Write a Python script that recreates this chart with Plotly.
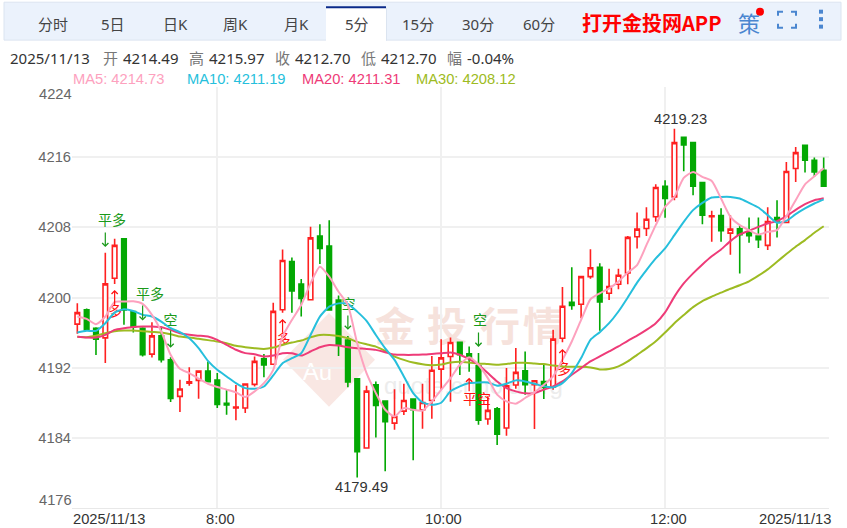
import plotly.graph_objects as go

# 5 minute candles
opens = [4196.96, 4198.59, 4196.5, 4195.4, 4202.19, 4206.7, 4198.4, 4196.5, 4193.54, 4195.63,
         4192.9, 4188.73, 4190.24, 4190.55, 4191.61, 4190.59, 4187.95, 4187.4, 4187.4, 4190.1,
         4193.0, 4192.39, 4198.61, 4204.11, 4201.53, 4199.75, 4207.0, 4205.86, 4199.71, 4195.16,
         4190.73, 4182.84, 4190.04, 4188.19, 4185.68, 4187.05, 4188.41, 4187.2, 4188.26, 4191.83,
         4193.28, 4194.9, 4193.58, 4192.22, 4186.15, 4187.32, 4185.12, 4190.02, 4191.65, 4190.05,
         4190.43, 4189.79, 4195.36, 4199.46, 4199.23, 4202.38, 4203.44, 4200.48, 4201.51, 4202.8,
         4206.92, 4207.87, 4209.2, 4212.69, 4211.47, 4218.26, 4217.66, 4213.1, 4209.2, 4209.35,
         4207.34, 4207.83, 4207.49, 4207.0, 4205.94, 4209.12, 4208.55, 4214.7, 4217.35, 4215.64,
         4214.49]
highs = [4199.35, 4198.74, 4196.6, 4205.1, 4206.7, 4206.7, 4198.4, 4196.6, 4197.18, 4196.69,
         4193.2, 4190.62, 4192.06, 4191.65, 4192.71, 4191.38, 4189.5, 4190.02, 4190.2, 4193.28,
         4193.57, 4199.41, 4205.47, 4204.57, 4202.1, 4208.06, 4208.36, 4208.81, 4200.24, 4195.62,
         4190.75, 4189.93, 4190.42, 4188.25, 4189.55, 4190.16, 4188.45, 4190.16, 4193.34, 4195.24,
         4195.44, 4194.95, 4194.42, 4193.66, 4188.73, 4187.51, 4191.95, 4194.23, 4193.85, 4190.55,
         4192.33, 4196.31, 4201.2, 4203.44, 4202.4, 4205.49, 4203.9, 4203.29, 4203.29, 4207.0,
         4209.69, 4210.3, 4212.91, 4213.37, 4219.23, 4218.3, 4217.7, 4213.15, 4209.88, 4210.18,
         4209.39, 4208.14, 4209.12, 4209.12, 4210.3, 4211.09, 4215.46, 4217.16, 4217.4, 4215.95,
         4215.97]
lows = [4195.86, 4196.3, 4193.43, 4192.52, 4201.55, 4196.88, 4196.0, 4193.28, 4193.16, 4192.6,
        4188.08, 4186.95, 4189.94, 4188.46, 4190.3, 4187.4, 4186.64, 4186.0, 4186.83, 4189.85,
        4190.92, 4192.3, 4198.27, 4198.27, 4197.82, 4199.7, 4203.81, 4198.5, 4193.34, 4189.78,
        4179.49, 4182.8, 4184.05, 4180.18, 4184.92, 4186.59, 4181.44, 4185.04, 4186.18, 4189.47,
        4188.12, 4191.15, 4191.53, 4185.5, 4185.5, 4183.19, 4184.25, 4189.6, 4188.92, 4185.01,
        4188.42, 4189.49, 4194.91, 4198.59, 4197.64, 4202.15, 4196.2, 4199.72, 4200.94, 4201.5,
        4205.6, 4207.0, 4208.63, 4209.08, 4211.09, 4214.39, 4211.66, 4208.36, 4206.35, 4206.35,
        4204.88, 4202.75, 4206.24, 4205.63, 4205.41, 4206.85, 4208.5, 4213.18, 4214.24, 4213.75,
        4212.7]
closes = [4198.28, 4196.31, 4195.25, 4201.55, 4205.94, 4198.59, 4196.65, 4193.47, 4195.63, 4192.9,
          4188.5, 4189.56, 4190.4, 4191.61, 4190.4, 4187.82, 4187.74, 4187.51, 4190.13, 4192.72,
          4192.32, 4198.42, 4204.22, 4200.74, 4199.9, 4206.8, 4205.6, 4198.58, 4194.59, 4190.38,
          4182.42, 4189.32, 4187.69, 4185.83, 4186.44, 4188.26, 4187.2, 4188.03, 4191.71, 4193.12,
          4194.87, 4193.47, 4193.09, 4186.0, 4187.13, 4184.4, 4189.94, 4191.46, 4190.05, 4190.51,
          4189.75, 4195.25, 4199.0, 4199.08, 4202.38, 4203.4, 4199.5, 4201.24, 4202.53, 4206.85,
          4207.8, 4208.93, 4212.54, 4211.28, 4217.66, 4217.39, 4212.69, 4209.39, 4209.31, 4207.61,
          4207.8, 4207.15, 4207.04, 4206.58, 4208.67, 4208.74, 4214.36, 4216.52, 4215.64, 4214.32,
          4212.7]

ma5 = [4197.83, 4197.56, 4196.96, 4197.83, 4199.5, 4199.54, 4199.57, 4199.27, 4198.02, 4196.12,
       4193.47, 4191.87, 4191.38, 4190.74, 4190.17, 4189.79, 4189.5, 4189.18, 4188.65, 4189.29,
       4190.23, 4191.75, 4195.54, 4197.44, 4199.14, 4201.61, 4203.5, 4202.37, 4200.66, 4199.14,
       4194.78, 4191.37, 4189.1, 4187.2, 4186.44, 4187.39, 4187.2, 4187.12, 4188.15, 4189.48,
       4190.8, 4192.33, 4193.2, 4192.33, 4190.81, 4188.92, 4188.16, 4187.9, 4188.54, 4189.18,
       4190.05, 4191.0, 4192.9, 4194.98, 4197.45, 4199.8, 4200.48, 4201.05, 4201.81, 4202.85,
       4203.7, 4205.97, 4208.25, 4210.33, 4211.47, 4213.64, 4214.32, 4213.75, 4213.29, 4211.28,
       4209.2, 4208.25, 4207.68, 4207.19, 4207.49, 4207.68, 4209.27, 4211.09, 4212.91, 4213.82,
       4214.73]
ma10 = [4196.01, 4196.2, 4196.2, 4197.07, 4198.28, 4198.66, 4198.47, 4198.02, 4197.83, 4197.26,
        4196.5, 4196.05, 4195.36, 4194.23, 4192.78, 4191.76, 4191.0, 4190.24, 4189.67, 4189.61,
        4189.85, 4191.11, 4192.51, 4193.08, 4193.65, 4195.73, 4197.82, 4198.95, 4199.33, 4199.26,
        4198.39, 4197.33, 4195.73, 4194.21, 4192.89, 4191.0, 4189.1, 4188.03, 4187.77, 4188.0,
        4189.3, 4189.87, 4190.24, 4190.32, 4190.32, 4189.94, 4190.17, 4190.55, 4190.43, 4190.17,
        4189.87, 4189.75, 4190.24, 4191.38, 4193.09, 4195.17, 4196.05, 4197.07, 4198.4, 4200.0,
        4201.7, 4203.13, 4204.46, 4205.6, 4207.11, 4208.63, 4209.96, 4210.79, 4211.4, 4211.47,
        4211.47, 4211.28, 4210.79, 4210.26, 4209.39, 4208.52, 4208.74, 4209.5, 4210.15, 4210.72,
        4211.19]
ma20 = [4195.52, 4195.44, 4195.44, 4195.74, 4196.31, 4196.5, 4196.65, 4196.69, 4196.69, 4196.61,
        4196.31, 4195.93, 4195.74, 4195.65, 4195.55, 4195.17, 4194.6, 4194.04, 4193.66, 4193.53,
        4193.27, 4193.38, 4193.65, 4193.65, 4193.38, 4193.84, 4194.33, 4194.59, 4194.52, 4194.33,
        4194.21, 4194.14, 4194.03, 4193.76, 4193.49, 4193.46, 4193.46, 4193.49, 4193.57, 4193.64,
        4193.73, 4193.47, 4192.97, 4192.33, 4191.38, 4190.43, 4189.67, 4189.3, 4189.07, 4189.11,
        4189.49, 4189.87, 4190.43, 4191.19, 4191.95, 4192.71, 4193.28, 4193.85, 4194.42, 4195.06,
        4195.65, 4196.3, 4197.07, 4198.3, 4200.1, 4201.6, 4202.75, 4203.77, 4204.7, 4205.48,
        4206.43, 4207.19, 4207.61, 4208.06, 4208.44, 4208.71, 4209.27, 4210.0, 4210.64, 4211.09,
        4211.31]
ma30 = [4195.52, 4195.48, 4195.63, 4195.93, 4196.16, 4196.24, 4196.24, 4196.16, 4196.08, 4196.01,
        4195.82, 4195.55, 4195.44, 4195.29, 4195.14, 4194.98, 4194.79, 4194.49, 4194.34, 4194.22,
        4194.14, 4194.29, 4194.59, 4194.86, 4195.09, 4195.47, 4195.73, 4195.73, 4195.62, 4195.35,
        4194.94, 4194.67, 4194.4, 4193.91, 4193.27, 4192.89, 4192.58, 4192.39, 4192.28, 4192.36,
        4192.59, 4192.67, 4192.59, 4192.48, 4192.41, 4192.33, 4192.41, 4192.56, 4192.56, 4192.48,
        4192.41, 4192.25, 4192.14, 4192.1, 4192.1, 4192.03, 4191.8, 4191.84, 4192.14, 4192.71,
        4193.46, 4194.2, 4195.0, 4196.0, 4197.07, 4198.0, 4198.9, 4199.6, 4200.1, 4200.55,
        4201.0, 4201.4, 4201.85, 4202.49, 4203.21, 4204.08, 4204.95, 4205.79, 4206.54, 4207.38,
        4208.12]

# axes
y_grid = [4224, 4216, 4208, 4200, 4192, 4184, 4176]
y_labels = ['', '4216', '4208', '4200', '4192', '4184', '']
x_ticks = [15, 39, 63]
x_labels = ['8:00', '10:00', '12:00']
x_label_pos = [220, 443, 668]

# buy / sell signals
sig_text = ['平多', '平多', '空', '空', '空', '多', '多', '平空', '多']
sig_x = [3.72, 7.79, 9.99, 29.07, 43.16, 4.04, 22.1, 42.84, 52.16]
sig_y = [4208.71, 4200.18, 4197.22, 4199.04, 4197.22, 4198.3, 4195.11, 4188.23, 4191.64]
sig_bar = [3, 7, 10, 29, 43, 4, 22, 42, 52]
sig_from = [4207.57, 4199.27, 4196.42, 4198.13, 4196.19, 4199.04, 4195.85, 4189.14, 4192.44]
sig_to = [4205.75, 4197.37, 4194.26, 4196.31, 4194.37, 4200.86, 4197.56, 4190.85, 4194.14]
sig_color = ['#1a9a1a'] * 5 + ['#ff1010'] * 4

tabs = ['分时', '5日', '日K', '周K', '月K', '5分', '15分', '30分', '60分']
tab_pos = [53, 113, 175, 235, 296, 357, 418, 478, 539]

info_text = ['2025/11/13', '开', '4214.49', '高', '4215.97', '收', '4212.70', '低', '4212.70', '幅', '-0.04%']
info_pos = [10, 103, 123, 189, 209, 275, 295, 361, 381, 447, 467]

ma_names = ['MA5: 4214.73', 'MA10: 4211.19', 'MA20: 4211.31', 'MA30: 4208.12']
ma_pos = [73, 187, 302, 416]
ma_colors = ['#fda1be', '#26bfdc', '#ee3b78', '#9dbb22']

W = 847
H = 528
L = 72
R = 829
T = 86.5
B = 508.5
SANS = 'Liberation Sans, Arial'
CJK = 'Noto Sans, Noto Sans CJK SC'


def px(x):
  return (x - L) / (R - L)


def py(y):
  return (B - y) / (B - T)


def label(text, x, y, size=14.7, color='#333333', anchor='left', family=SANS, bold=False):
  if bold:
    text = '<b>' + text + '</b>'
  # annotations keep a small pad round the text
  if anchor == 'left':
    x -= 2
  if anchor == 'right':
    x += 2
  return dict(text=text, x=px(x), y=py(y), xref='paper', yref='paper', showarrow=False,
              xanchor=anchor, yanchor='middle', font=dict(size=size, color=color, family=family))


def rect(x0, y0, x1, y1, fill, line=None, layer='above'):
  return dict(type='rect', xref='paper', yref='paper', x0=px(x0), x1=px(x1), y0=py(y0), y1=py(y1),
              fillcolor=fill, line=dict(width=1 if line else 0, color=line or fill), layer=layer)


def seg(path, color='#4a86d0', width=2):
  d = ' '.join(('M' if i == 0 else 'L') + f'{px(x):.5f},{py(y):.5f}' for i, (x, y) in enumerate(path))
  return dict(type='path', path=d, xref='paper', yref='paper', line=dict(color=color, width=width))


bars = list(range(len(closes)))

fig = go.Figure()
fig.add_trace(go.Candlestick(
  x=bars, open=opens, high=highs, low=lows, close=closes,
  whiskerwidth=0,
  increasing=dict(line=dict(color='#ff2020', width=1.6), fillcolor='#ffffff'),
  decreasing=dict(line=dict(color='#03a803', width=1.6), fillcolor='#03a803'),
  hoverinfo='skip'))
# signal words sit under the MA lines
fig.add_trace(go.Scatter(x=sig_x, y=sig_y, text=sig_text, mode='text', cliponaxis=False,
                         textfont=dict(size=14, color=sig_color, family='Noto Sans CJK SC'),
                         hoverinfo='skip'))
for vals, col in zip([ma30, ma20, ma10, ma5], [ma_colors[3], ma_colors[2], ma_colors[1], ma_colors[0]]):
  fig.add_trace(go.Scatter(x=bars, y=vals, mode='lines', hoverinfo='skip',
                           line=dict(color=col, width=2, shape='spline', smoothing=0.6)))

shapes = []
# watermark, behind the candles
diamond = [(283, 360), (329, 313), (375, 360), (329, 407), (283, 360)]
shapes.append(dict(type='path', layer='below', xref='paper', yref='paper', fillcolor='#f9e7e3',
                   line=dict(width=0),
                   path=' '.join(('M' if i == 0 else 'L') + f'{px(x):.5f},{py(y):.5f}' for i, (x, y) in enumerate(diamond)) + ' Z'))
for ch, cx in zip('金投行情', [395, 447, 500, 543]):
  s = rect(cx - 25, 305, cx + 25, 355, 'rgba(0,0,0,0)', layer='below')
  s['label'] = dict(text='<b>' + ch + '</b>', textposition='middle center',
                    font=dict(size=40, color='#f6e2dc', family='Noto Sans CJK SC'))
  shapes.append(s)
s = rect(377, 370, 570, 398, 'rgba(0,0,0,0)', layer='below')
s['label'] = dict(text='quote.cngold.org', textposition='middle center',
                  font=dict(size=24, color='#ececec', family=SANS))
shapes.append(s)
s = rect(295, 352, 340, 388, 'rgba(0,0,0,0)', layer='below')
s['label'] = dict(text='Au', textposition='middle center',
                  font=dict(size=24, color='#ffffff', family=SANS))
shapes.append(s)

# tab bar
shapes.append(rect(4, 1.5, 841, 39.5, '#ebf2fc', '#dbe4f0'))
shapes.append(rect(326, 6, 386, 40.5, '#ffffff'))
shapes.append(rect(326, 5.5, 386, 7.5, '#0b2a8a'))
shapes.append(seg([(386.5, 7), (386.5, 40)], '#dbe4f0', 1))
shapes.append(dict(type='circle', xref='paper', yref='paper', x0=px(756), x1=px(764), y0=py(7), y1=py(15),
                   fillcolor='#ff0000', line=dict(width=0)))
shapes.append(seg([(778, 15), (778, 11), (783, 11)]))
shapes.append(seg([(791, 11), (796, 11), (796, 15)]))
shapes.append(seg([(778, 23), (778, 27), (783, 27)]))
shapes.append(seg([(791, 27), (796, 27), (796, 23)]))
for dot_y in [11, 18.5, 26]:
  shapes.append(rect(819, dot_y - 2, 823, dot_y + 2, '#4a86d0'))

notes = []
for t, x in zip(tabs, tab_pos):
  notes.append(label(t, x, 23, size=15, color='#444444', anchor='center', family=CJK))
notes.append(label('打开金投网APP', 651.5, 22, size=20, color='#ff0000', anchor='center',
                   family='Noto Sans CJK SC', bold=True))
notes.append(label('策', 749, 21, size=22, color='#4a86d0', anchor='center', family='Noto Sans CJK SC'))

for i, (t, x) in enumerate(zip(info_text, info_pos)):
  is_word = t in '开高收低幅'
  notes.append(label(t, x, 57, size=15, color='#777777' if is_word else '#333333', family=CJK))
for t, x, c in zip(ma_names, ma_pos, ma_colors):
  notes.append(label(t, x, 78, color=c))

notes.append(label('4224', 72, 94, color='#666666', anchor='right'))
notes.append(label('4176', 72, 500, color='#666666', anchor='right'))
notes.append(label('2025/11/13', 73, 520, color='#333333'))
notes.append(label('2025/11/13', 831, 520, color='#333333', anchor='right'))
# hour labels sit a little right of their grid lines and close to the page edge
for t, x in zip(x_labels, x_label_pos):
  notes.append(label(t, x, 520, color='#333333', anchor='center'))

notes.append(dict(text='4219.23', x=64.6, y=4220.3, showarrow=False,
                  font=dict(size=14.7, color='#333333', family=SANS)))
notes.append(dict(text='4179.49', x=30.5, y=4178.45, showarrow=False,
                  font=dict(size=14.7, color='#333333', family=SANS)))

for bar, a, b, c in zip(sig_bar, sig_from, sig_to, sig_color):
  notes.append(dict(x=bar, y=b, ax=bar, ay=a, xref='x', yref='y', axref='x', ayref='y', text='',
                    showarrow=True, arrowhead=4, arrowsize=1, arrowwidth=1.2, arrowcolor=c, standoff=0))

fig.update_layout(
  width=W, height=H, showlegend=False,
  margin=dict(l=L, r=W - R, t=T, b=H - B, pad=0),
  paper_bgcolor='#ffffff', plot_bgcolor='#ffffff',
  shapes=shapes, annotations=notes,
  xaxis=dict(range=[-0.57, 80.57], tickvals=x_ticks, showticklabels=False, rangeslider=dict(visible=False),
             automargin=False, showgrid=True, gridcolor='#f0f0f0', gridwidth=2, zeroline=False, showline=True,
             linecolor='#e8e8e8', linewidth=1, ticks=''),
  yaxis=dict(range=[4176, 4224], tickvals=y_grid, ticktext=y_labels, side='left',
             automargin=False, showgrid=True, gridcolor='#f0f0f0', gridwidth=2, zeroline=False, showline=False,
             ticks='', tickfont=dict(size=14.7, color='#666666', family=SANS)),
)

fig.write_html("out.html", config={'displayModeBar': False}, post_script="document.body.style.margin='0';")
